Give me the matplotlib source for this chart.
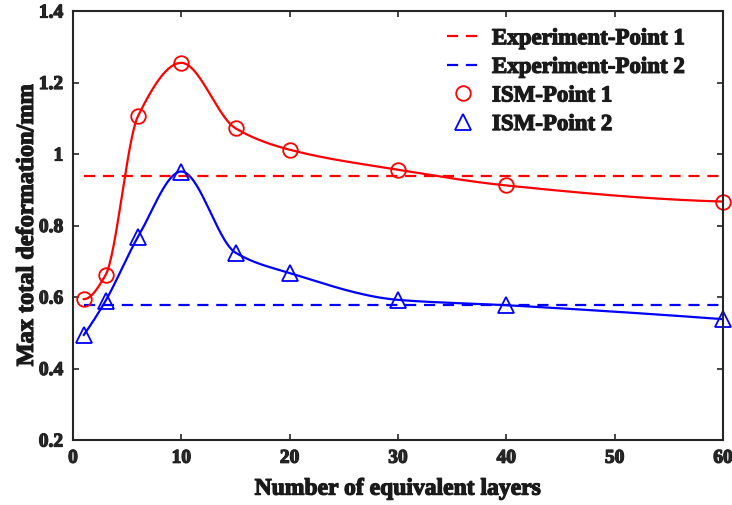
import numpy as np
import matplotlib.pyplot as plt
import matplotlib.patheffects as pe

layers = [1, 3, 6, 10, 15, 20, 30, 40, 60]
ism_p1 = [0.594, 0.661, 1.106, 1.255, 1.072, 1.012, 0.956, 0.912, 0.867]
ism_p2 = [0.494, 0.589, 0.768, 0.951, 0.724, 0.667, 0.592, 0.577, 0.538]
exp_p1 = 0.939
exp_p2 = 0.579


def pchip(x, y, xs):
    # shape-preserving piecewise cubic, like MATLAB's pchip
    x = np.asarray(x, float)
    y = np.asarray(y, float)
    h = np.diff(x)
    d = np.diff(y) / h
    n = len(x)
    m = np.zeros(n)
    for k in range(1, n - 1):
        if d[k - 1] * d[k] > 0:
            w1 = 2 * h[k] + h[k - 1]
            w2 = h[k] + 2 * h[k - 1]
            m[k] = (w1 + w2) / (w1 / d[k - 1] + w2 / d[k])
    m[0] = ((2 * h[0] + h[1]) * d[0] - h[0] * d[1]) / (h[0] + h[1])
    if np.sign(m[0]) != np.sign(d[0]):
        m[0] = 0
    m[-1] = ((2 * h[-1] + h[-2]) * d[-1] - h[-1] * d[-2]) / (h[-1] + h[-2])
    if np.sign(m[-1]) != np.sign(d[-1]):
        m[-1] = 0
    idx = np.clip(np.searchsorted(x, xs) - 1, 0, n - 2)
    t = (xs - x[idx]) / h[idx]
    h00 = 2 * t**3 - 3 * t**2 + 1
    h10 = t**3 - 2 * t**2 + t
    h01 = -2 * t**3 + 3 * t**2
    h11 = t**3 - t**2
    return h00 * y[idx] + h10 * h[idx] * m[idx] + h01 * y[idx + 1] + h11 * h[idx] * m[idx + 1]


plt.rcParams['font.family'] = ['Liberation Serif', 'DejaVu Serif']
plt.rcParams['font.weight'] = 'bold'
# bold face looks thin here, thicken glyphs with a stroke
bold = [pe.withStroke(linewidth=0.9, foreground='#1a1a1a')]

fig = plt.figure(figsize=(7.32, 5.06), dpi=100)
ax = fig.add_axes([73 / 732, 1 - 441 / 506, 650 / 732, 429 / 506])

xs = np.linspace(layers[0], layers[-1], 600)
ax.plot(xs, pchip(layers, ism_p1, xs), color='#ff0000', lw=1.6)
ax.plot(xs, pchip(layers, ism_p2, xs), color='#0000ff', lw=1.6)

ax.plot([layers[0], layers[-1]], [exp_p1, exp_p1], color='#ff0000', lw=1.6,
        ls=(0, (5, 3.5)), label='Experiment-Point 1')
ax.plot([layers[0], layers[-1]], [exp_p2, exp_p2], color='#0000ff', lw=1.6,
        ls=(0, (5, 3.5)), label='Experiment-Point 2')
ax.plot(layers, ism_p1, ls='none', marker='o', ms=10.5, mfc='none', mec='#ff0000',
        mew=1.3, label='ISM-Point 1', clip_on=False)
ax.plot(layers, ism_p2, ls='none', marker='^', ms=11, mfc='none', mec='#0000ff',
        mew=1.3, label='ISM-Point 2', clip_on=False)

ax.set_xlim(0, 60)
ax.set_ylim(0.2, 1.4)
ax.set_xticks([0, 10, 20, 30, 40, 50, 60])
ax.set_yticks([0.2, 0.4, 0.6, 0.8, 1.0, 1.2, 1.4])
ax.set_yticklabels(['0.2', '0.4', '0.6', '0.8', '1', '1.2', '1.4'])
ax.tick_params(direction='in', length=4, width=1.2, top=True, right=True,
               labelsize=14, colors='#262626', pad=7)
for lab in ax.get_xticklabels() + ax.get_yticklabels():
    lab.set_fontweight('bold')
    lab.set_path_effects(bold)
for sp in ax.spines.values():
    sp.set_linewidth(1.5)
    sp.set_color('#262626')

ax.set_xlabel('Number of equivalent layers', fontsize=17, fontweight='bold',
              path_effects=bold, color='#1a1a1a')
ax.set_ylabel('Max total deformation/mm', fontsize=17.5, fontweight='bold',
              path_effects=bold, color='#1a1a1a')
ax.xaxis.set_label_coords(0.5, -0.09)
ax.yaxis.set_label_coords(-0.054, 0.5)

leg = ax.legend(loc='upper right', frameon=False, fontsize=16.5, handlelength=1.35,
                handletextpad=0.6, labelspacing=0.33, borderaxespad=0.35,
                bbox_to_anchor=(0.967, 1.0))
for t in leg.get_texts():
    t.set_path_effects(bold)
    t.set_color('#1a1a1a')

fig.savefig('out.png', dpi=100)
